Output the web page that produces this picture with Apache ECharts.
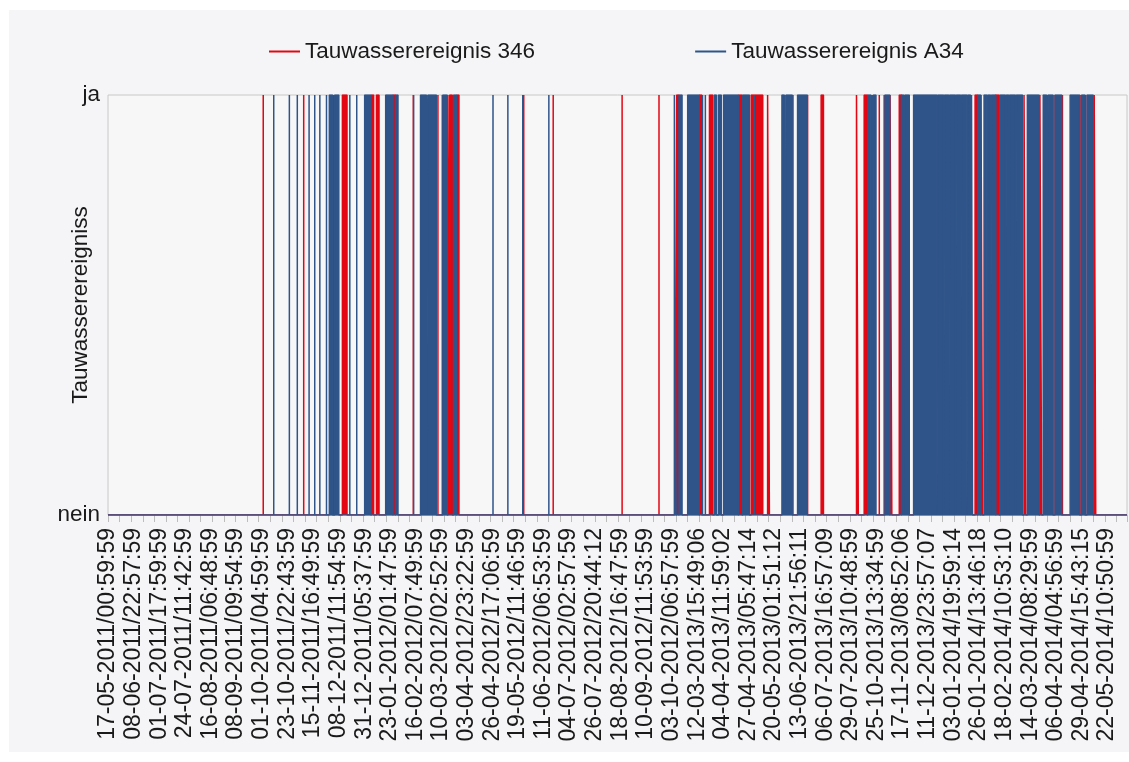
<!DOCTYPE html>
<html>
<head>
<meta charset="utf-8">
<script src="https://cdn.jsdelivr.net/npm/echarts@6/dist/echarts.min.js"></script>
<style>
html,body{margin:0;padding:0;background:#ffffff;}
#c{width:1129px;height:762px;}
</style>
</head>
<body>
<div id="c"></div>
<script>
// x-axis tick labels (one per label position, index = axis unit)
const xLabels = ['17-05-2011/00:59:59','08-06-2011/22:57:59','01-07-2011/17:59:59','24-07-2011/11:42:59','16-08-2011/06:48:59','08-09-2011/09:54:59','01-10-2011/04:59:59','23-10-2011/22:43:59','15-11-2011/16:49:59','08-12-2011/11:54:59','31-12-2011/05:37:59','23-01-2012/01:47:59','16-02-2012/07:49:59','10-03-2012/02:52:59','03-04-2012/23:22:59','26-04-2012/17:06:59','19-05-2012/11:46:59','11-06-2012/06:53:59','04-07-2012/02:57:59','26-07-2012/20:44:12','18-08-2012/16:47:59','10-09-2012/11:53:59','03-10-2012/06:57:59','12-03-2013/15:49:06','04-04-2013/11:59:02','27-04-2013/05:47:14','20-05-2013/01:51:12','13-06-2013/21:56:11','06-07-2013/16:57:09','29-07-2013/10:48:59','25-10-2013/13:34:59','17-11-2013/08:52:06','11-12-2013/23:57:07','03-01-2014/19:59:14','26-01-2014/13:46:18','18-02-2014/10:53:10','14-03-2014/08:29:59','06-04-2014/04:56:59','29-04-2014/15:43:15','22-05-2014/10:50:59'];
const xEnd = 39.78;
const yLabels = ['nein', 'ja'];
const seriesNames = ['Tauwasserereignis 346', 'Tauwasserereignis A34'];

// periods with value "ja" (1), given as [start, end] in x-axis units
const events346 = [[6.06,6.06],[7.64,7.64],[8.80,8.80],[9.15,9.33],[10.28,10.37],[10.48,10.58],[11.13,11.21],[11.92,11.92],[12.88,12.88],[13.05,13.05],[13.27,13.27],[13.34,13.44],[13.62,13.70],[16.23,16.23],[17.38,17.38],[20.07,20.07],[21.51,21.51],[22.20,22.28],[23.09,23.18],[23.48,23.61],[24.62,24.75],[25.11,25.56],[25.75,25.82],[26.43,26.43],[26.74,26.74],[27.31,27.31],[27.84,27.93],[29.22,29.29],[29.52,29.64],[30.11,30.11],[30.30,30.30],[30.53,30.60],[30.89,30.97],[31.08,31.08],[33.85,33.94],[34.08,34.14],[34.66,34.79],[35.18,35.18],[35.76,35.83],[36.38,36.45],[36.67,36.67],[36.93,36.93],[37.26,37.26],[37.65,37.65],[37.98,37.98],[38.17,38.17],[38.50,38.56]];
const eventsA34 = [[6.47,6.47],[7.08,7.08],[7.39,7.39],[7.85,7.85],[8.07,8.07],[8.27,8.27],[8.53,8.53],[8.64,8.77],[8.85,9.01],[9.44,9.44],[9.71,9.71],[10.02,10.26],[10.84,11.12],[11.22,11.32],[11.93,11.93],[12.20,12.43],[12.49,12.82],[13.07,13.24],[13.49,13.61],[15.03,15.03],[15.61,15.61],[16.19,16.19],[17.21,17.21],[22.11,22.18],[22.29,22.41],[22.63,23.08],[23.21,23.21],[23.32,23.32],[23.67,23.75],[23.83,23.94],[24.03,24.61],[24.78,25.04],[25.23,25.23],[26.31,26.40],[26.47,26.71],[26.92,27.30],[29.66,29.78],[29.83,29.83],[29.88,29.98],[30.33,30.52],[30.97,31.06],[31.11,31.28],[31.45,32.36],[32.40,32.62],[32.66,32.82],[32.86,33.08],[33.12,33.28],[33.32,33.53],[33.57,33.67],[33.71,33.75],[33.95,34.07],[34.20,34.31],[34.35,34.45],[34.49,34.66],[34.83,35.03],[35.07,35.16],[35.20,35.42],[35.46,35.70],[35.89,36.35],[36.51,36.64],[36.70,36.89],[36.97,37.23],[37.56,37.93],[38.01,38.14],[38.22,38.46]];

function toSteps(events) {
  const pts = [[0, 0]];
  events.forEach(([s, e]) => { pts.push([s, 0], [s, 1], [e, 1], [e, 0]); });
  pts.push([xEnd, 0]);
  return pts;
}

const RED = '#e30613';
const BLUE = '#2f5489';
const FONT = 'Liberation Sans, Arial, sans-serif';
const FS = 22.5;

const chart = echarts.init(document.getElementById('c'), null, {renderer: 'canvas'});
chart.setOption({
  animation: false,
  backgroundColor: '#ffffff',
  graphic: [{type: 'rect', z: -10, silent: true, shape: {x: 9, y: 10, width: 1120, height: 742}, style: {fill: '#f5f5f7'}}],
  legend: {
    top: 35, left: 264, itemGap: 160, itemWidth: 31, itemHeight: 2,
    icon: 'rect',
    textStyle: {fontFamily: FONT, fontSize: FS, color: '#1a1a1a'},
    data: seriesNames
  },
  grid: {left: 108, right: 2, top: 95, bottom: 247, show: true, borderColor: '#c8c8c8', borderWidth: 1, backgroundColor: '#f7f7f8'},
  xAxis: [{
    type: 'value', min: 0, max: xEnd, interval: 1,
    axisLine: {show: false}, axisTick: {show: false}, splitLine: {show: false},
    axisLabel: {rotate: 90, margin: 13, fontFamily: FONT, fontSize: 23, color: '#1a1a1a',
      formatter: v => (Math.abs(v - Math.round(v)) < 1e-6 && xLabels[Math.round(v)]) ? xLabels[Math.round(v)] : ''}
  }, {
    type: 'value', min: 0, max: xEnd, interval: 0.4525, position: 'bottom',
    axisLine: {show: false}, splitLine: {show: false}, axisLabel: {show: false},
    axisTick: {show: true, length: 7, lineStyle: {color: '#bdbdbd'}}
  }],
  yAxis: {
    type: 'value', min: 0, max: 1, interval: 1,
    name: 'Tauwasserereigniss', nameLocation: 'middle', nameGap: 16, nameRotate: 90, nameMoveOverlap: false,
    nameTextStyle: {fontFamily: FONT, fontSize: FS, color: '#1a1a1a'},
    axisLine: {show: false}, axisTick: {show: false}, splitLine: {show: false},
    axisLabel: {margin: 8, fontFamily: FONT, fontSize: FS, color: '#1a1a1a', formatter: v => yLabels[v] || ''}
  },
  series: [{
    name: seriesNames[0], type: 'line', xAxisIndex: 0, symbol: 'none', showSymbol: false,
    data: toSteps(events346), color: RED,
    lineStyle: {color: RED, width: 1.5}, areaStyle: {color: RED, opacity: 1}, z: 2
  }, {
    name: seriesNames[1], type: 'line', xAxisIndex: 0, symbol: 'none', showSymbol: false,
    data: toSteps(eventsA34), color: BLUE,
    lineStyle: {color: BLUE, width: 1.5}, areaStyle: {color: BLUE, opacity: 1}, z: 3
  }]
});
</script>
</body>
</html>
